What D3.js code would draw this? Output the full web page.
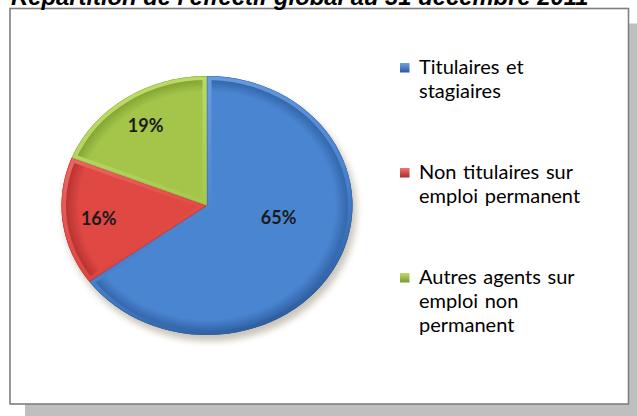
<!DOCTYPE html>
<html>
<head>
<meta charset="utf-8">
<script src="https://cdn.jsdelivr.net/npm/d3@7"></script>
<style>
html,body{margin:0;padding:0;background:#fff;overflow:hidden;}
svg{display:block;}
</style>
</head>
<body>
<svg id="chart" width="637" height="416"></svg>
<script>
const title = "Répartition de l'effectif global au 31 décembre 2011";
const categories = ["Titulaires et stagiaires", "Non titulaires sur emploi permanent", "Autres agents sur emploi non permanent"];
const legendLines = [["Titulaires et", "stagiaires"], ["Non titulaires sur", "emploi permanent"], ["Autres agents sur", "emploi non", "permanent"]];
const values = [65, 16, 19];
const labels = ["65%", "16%", "19%"];
const colors = ["#4a85d2", "#e04844", "#a4c54a"];
const darkColors = ["#2d5c9c", "#a92d2a", "#7a9a2c"];
const lightColors = ["#6da1e4", "#f07470", "#c0dc6c"];

const W = 637, H = 416;
const svg = d3.select("#chart");
const defs = svg.append("defs");

// Frame shadow + frame
const frame = {x: 10, y: 8.5, w: 618.5, h: 395.5};
svg.append("rect").attr("x", frame.x + 15).attr("y", frame.y + 15)
  .attr("width", frame.w).attr("height", frame.h).attr("fill", "#bfbfbf");
svg.append("rect").attr("x", frame.x).attr("y", frame.y)
  .attr("width", frame.w).attr("height", frame.h)
  .attr("fill", "#fff").attr("stroke", "#7f7f7f").attr("stroke-width", 1.6);

// Title (cropped at top in the reference)
svg.append("text").attr("x", 11).attr("y", 4.5)
  .attr("font-family", "Liberation Sans, Arial, sans-serif")
  .attr("font-weight", "bold").attr("font-style", "italic")
  .attr("font-size", 23.8).attr("fill", "#000").text(title);

// Pie
const cx = 207, cy = 205.5, rx = 145.5, ry = 129.5;
const pie = d3.pie().sort(null).value(d => d)(values);
const arc = d3.arc().innerRadius(0).outerRadius(rx);
const labelPos = (d) => {
  const big = d.value > 50;
  const f = big ? 0.5 : 0.75;
  const a = (d.startAngle + d.endAngle) / 2 - (big ? 0.3 : 0);
  return [Math.sin(a) * rx * f, -Math.cos(a) * rx * f];
};

// shadow filter
const shadow = defs.append("filter").attr("id", "pieShadow")
  .attr("x", "-20%").attr("y", "-20%").attr("width", "140%").attr("height", "140%");
shadow.append("feGaussianBlur").attr("stdDeviation", 3.5);

colors.forEach((c, i) => {
  const g = defs.append("radialGradient").attr("id", "grad" + i)
    .attr("gradientUnits", "userSpaceOnUse").attr("cx", 0).attr("cy", 0).attr("r", rx);
  g.append("stop").attr("offset", "0%").attr("stop-color", c);
  g.append("stop").attr("offset", "88%").attr("stop-color", c);
  g.append("stop").attr("offset", "100%").attr("stop-color", darkColors[i]);
  const b = defs.append("linearGradient").attr("id", "bevel" + i)
    .attr("gradientUnits", "userSpaceOnUse")
    .attr("x1", -rx * 0.5).attr("y1", -rx).attr("x2", rx * 0.4).attr("y2", rx);
  b.append("stop").attr("offset", "0%").attr("stop-color", lightColors[i]);
  b.append("stop").attr("offset", "55%").attr("stop-color", c);
  b.append("stop").attr("offset", "100%").attr("stop-color", darkColors[i]);
  defs.append("clipPath").attr("id", "clip" + i)
    .append("path").attr("d", arc(pie[i]));
});

const pg = svg.append("g").attr("transform", `translate(${cx},${cy}) scale(1,${ry / rx})`);
pg.append("ellipse").attr("cx", 3).attr("cy", 6).attr("rx", rx + 1).attr("ry", rx + 1)
  .attr("fill", "#6b5a3a").attr("opacity", 0.35).attr("filter", "url(#pieShadow)");

const slices = pg.selectAll("g.slice").data(pie).join("g").attr("class", "slice");
slices.append("path").attr("d", arc).attr("fill", (d, i) => `url(#grad${i})`);
slices.append("path").attr("d", arc)
  .attr("fill", "none")
  .attr("stroke", (d, i) => `url(#bevel${i})`)
  .attr("stroke-width", 9)
  .attr("stroke-linejoin", "round")
  .attr("clip-path", (d, i) => `url(#clip${i})`);
slices.append("path").attr("d", arc)
  .attr("fill", "none")
  .attr("stroke", (d, i) => darkColors[i])
  .attr("stroke-opacity", 0.55)
  .attr("stroke-width", 1.2)
  .attr("clip-path", (d, i) => `url(#clip${i})`);

// percent labels
const lg = svg.append("g").attr("transform", `translate(${cx},${cy})`);
pie.forEach((d, i) => {
  const [x, y] = labelPos(d);
  lg.append("text").attr("x", x).attr("y", y * ry / rx)
    .attr("text-anchor", "middle").attr("dominant-baseline", "central")
    .attr("font-family", "Lato, 'Open Sans', sans-serif").attr("font-weight", "bold")
    .attr("font-size", 18).attr("fill", "#1a1a1a").text(labels[i]);
});

// legend
const legendY = d3.scaleLinear().domain([0, 2]).range([74, 284]);
categories.forEach((c, i) => {
  const y = legendY(i);
  const sg = defs.append("linearGradient").attr("id", "sq" + i)
    .attr("x1", 0).attr("y1", 0).attr("x2", 0).attr("y2", 1);
  sg.append("stop").attr("offset", "0%").attr("stop-color", lightColors[i]);
  sg.append("stop").attr("offset", "100%").attr("stop-color", darkColors[i]);
  svg.append("rect").attr("x", 400).attr("y", y - 11).attr("width", 9.5).attr("height", 9.5)
    .attr("fill", `url(#sq${i})`);
  const t = svg.append("text").attr("x", 419).attr("y", y)
    .attr("font-family", "Lato, 'Open Sans', sans-serif")
    .attr("font-size", 20).attr("word-spacing", 1.5).attr("fill", "#000");
  legendLines[i].forEach((ln, j) => {
    t.append("tspan").attr("x", 419).attr("y", y + j * 24).text(ln);
  });
});
</script>
</body>
</html>
